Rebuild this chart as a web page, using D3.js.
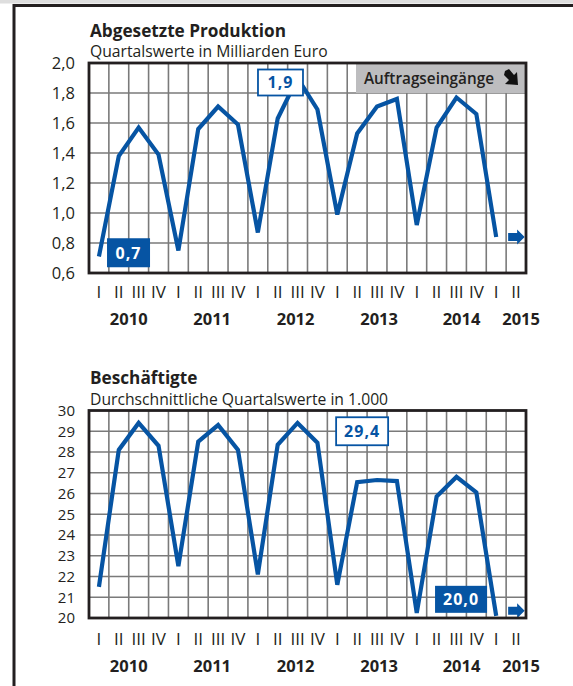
<!DOCTYPE html>
<html>
<head>
<meta charset="utf-8">
<script src="https://cdn.jsdelivr.net/npm/d3@7"></script>
<style>
  body { margin: 0; background: #fff; }
  text { font-family: "Open Sans", sans-serif; fill: #231f20; }
</style>
</head>
<body>
<script>
const w = 573;
const h = 686;

// quarters 2010 I .. 2015 II
const years = [2010, 2011, 2012, 2013, 2014, 2015];
const quarterNames = ['I', 'II', 'III', 'IV'];
const periods = years.flatMap(y => quarterNames.map(q => y + ' ' + q)).slice(0, 22);

// values 2010 I .. 2015 I
const produktion = [0.71, 1.38, 1.57, 1.39, 0.75, 1.56, 1.71, 1.59, 0.87, 1.63, 1.90, 1.69,
	0.99, 1.53, 1.71, 1.76, 0.92, 1.57, 1.77, 1.66, 0.84];
const beschaeftigte = [21.5, 28.1, 29.4, 28.3, 22.5, 28.5, 29.3, 28.1, 22.1, 28.35, 29.4, 28.45,
	21.6, 26.55, 26.65, 26.6, 20.25, 25.85, 26.8, 26.05, 20.1];

const ticksProduktion = [0.6, 0.8, 1.0, 1.2, 1.4, 1.6, 1.8, 2.0];
const ticksBeschaeftigte = [20, 21, 22, 23, 24, 25, 26, 27, 28, 29, 30];

const blue = '#0654a3';
const comma = v => d3.format('.1f')(v).replace('.', ',');

const svg = d3.select('body').append('svg')
	.attr('width', w)
	.attr('height', h);

// outer frame
svg.append('rect').attr('x', 0).attr('y', 0).attr('width', w).attr('height', 3.5).attr('fill', '#dedede');
svg.append('path')
	.attr('d', `M${14},${h} V${5.5} H${w}`)
	.attr('fill', 'none')
	.attr('stroke', '#231f20')
	.attr('stroke-width', 3);

const x = d3.scaleBand().domain(periods).range([89, 526]).padding(0);
const xc = i => x(periods[i]) + x.bandwidth() / 2;

function chart(cfg) {
	const y = d3.scaleLinear().domain(cfg.domain).range([cfg.bottom, cfg.top]);
	const g = svg.append('g');

	g.append('text')
		.attr('x', 90).attr('y', cfg.titleY)
		.attr('font-size', 17.2).attr('font-weight', 'bold')
		.text(cfg.title);
	g.append('text')
		.attr('x', 90).attr('y', cfg.titleY + 20.5)
		.attr('font-size', 15.7)
		.text(cfg.subtitle);

	// grid
	g.append('g').selectAll('line.v')
		.data(periods.slice(1))
		.join('line')
		.attr('x1', d => x(d)).attr('x2', d => x(d))
		.attr('y1', cfg.top).attr('y2', cfg.bottom)
		.attr('stroke', '#7a7a7a').attr('stroke-width', 1.6);
	g.append('g').selectAll('line.h')
		.data(cfg.ticks.slice(1, -1))
		.join('line')
		.attr('x1', 89).attr('x2', 526)
		.attr('y1', d => y(d)).attr('y2', d => y(d))
		.attr('stroke', '#7a7a7a').attr('stroke-width', 1.6);

	// y axis labels
	g.append('g').selectAll('text')
		.data(cfg.ticks)
		.join('text')
		.attr('x', 75).attr('y', d => y(d))
		.attr('dy', '0.36em')
		.attr('text-anchor', 'end')
		.attr('font-size', cfg.tickSize)
		.text(cfg.fmt);

	// quarter labels
	g.append('g').selectAll('text')
		.data(periods)
		.join('text')
		.attr('x', (d, i) => xc(i))
		.attr('y', cfg.bottom + cfg.qDy)
		.attr('text-anchor', 'middle')
		.attr('font-size', 17)
		.attr('font-weight', 500)
		.text(d => d.split(' ')[1]);

	// year labels
	g.append('g').selectAll('text')
		.data(years)
		.join('text')
		.attr('x', (d, i) => {
			const idx = periods.map((p, j) => p.startsWith(d) ? j : -1).filter(j => j >= 0);
			return (xc(idx[0]) + xc(idx[idx.length - 1])) / 2 + Math.min(i * 4, 15);
		})
		.attr('y', cfg.bottom + cfg.yearDy)
		.attr('text-anchor', 'middle')
		.attr('font-size', 16.5)
		.attr('font-weight', 'bold')
		.text(d => d);

	// extra box (Auftragseingänge)
	if (cfg.extra) {
		g.append('rect')
			.attr('x', 356).attr('y', cfg.top)
			.attr('width', 526 - 356).attr('height', 30)
			.attr('fill', '#bdbdbf');
		g.append('text')
			.attr('x', 364).attr('y', cfg.top + 20.5)
			.attr('font-size', 15.3).attr('font-weight', 600)
			.text(cfg.extra);
		// black arrow pointing down-right
		const ax = 512, ay = cfg.top + 15;
		g.append('path')
			.attr('d', 'M-7,-7 L-3,-9 L2,-3 L5,-6 L6,7 L-7,6 L-3,2 L-8,-3 Z')
			.attr('transform', `translate(${ax},${ay})`)
			.attr('fill', '#111');
	}

	// line
	g.append('path')
		.datum(cfg.values)
		.attr('d', d3.line().x((d, i) => xc(i)).y(d => y(d)))
		.attr('fill', 'none')
		.attr('stroke', blue)
		.attr('stroke-width', 4.2)
		.attr('stroke-linejoin', 'miter');

	// arrow in 2015 II
	const ay = y(cfg.arrowAt);
	const a0 = x(periods[21]) + 2;
	g.append('path')
		.attr('d', `M${a0},${ay - 4} H${a0 + 9} V${ay - 7.5} L${a0 + 16.5},${ay} L${a0 + 9},${ay + 7.5} V${ay + 4} H${a0} Z`)
		.attr('fill', blue);

	// frame of the plot area
	g.append('rect')
		.attr('x', 89).attr('y', cfg.top)
		.attr('width', 526 - 89).attr('height', cfg.bottom - cfg.top)
		.attr('fill', 'none')
		.attr('stroke', '#231f20')
		.attr('stroke-width', 2.8);

	// value callouts
	cfg.callouts.forEach(c => {
		const cx = 89 + c.q * x.bandwidth();
		const cy = y(c.v);
		g.append('rect')
			.attr('x', cx - c.w / 2).attr('y', cy - c.h / 2)
			.attr('width', c.w).attr('height', c.h)
			.attr('fill', c.filled ? blue : '#fff')
			.attr('stroke', blue)
			.attr('stroke-width', c.filled ? 0 : 1.8);
		g.append('text')
			.attr('x', cx).attr('y', cy)
			.attr('dy', '0.36em')
			.attr('text-anchor', 'middle')
			.attr('font-size', 16).attr('font-weight', 'bold')
			.style('fill', c.filled ? '#fff' : blue)
			.style('letter-spacing', '1px')
			.text(c.text);
	});
}

chart({
	title: 'Abgesetzte Produktion',
	subtitle: 'Quartalswerte in Milliarden Euro',
	titleY: 36.5,
	top: 63, bottom: 273,
	domain: [0.6, 2.0],
	ticks: ticksProduktion,
	tickSize: 16.5,
	fmt: comma,
	values: produktion,
	arrowAt: 0.84,
	qDy: 24.5, yearDy: 51.5,
	extra: 'Auftragseingänge',
	callouts: [
		{ text: '0,7', q: 1.99, v: 0.735, w: 43, h: 29, filled: true },
		{ text: '1,9', q: 9.64, v: 1.87, w: 45, h: 26, filled: false }
	]
});

chart({
	title: 'Beschäftigte',
	subtitle: 'Durchschnittliche Quartalswerte in 1.000',
	titleY: 384,
	top: 410.5, bottom: 618,
	domain: [20, 30],
	ticks: ticksBeschaeftigte,
	tickSize: 15,
	fmt: d => d,
	values: beschaeftigte,
	arrowAt: 20.35,
	qDy: 27, yearDy: 53.5,
	extra: null,
	callouts: [
		{ text: '29,4', q: 13.75, v: 29.0, w: 52, h: 28, filled: false },
		{ text: '20,0', q: 18.73, v: 20.9, w: 52, h: 27, filled: true }
	]
});
</script>
</body>
</html>
